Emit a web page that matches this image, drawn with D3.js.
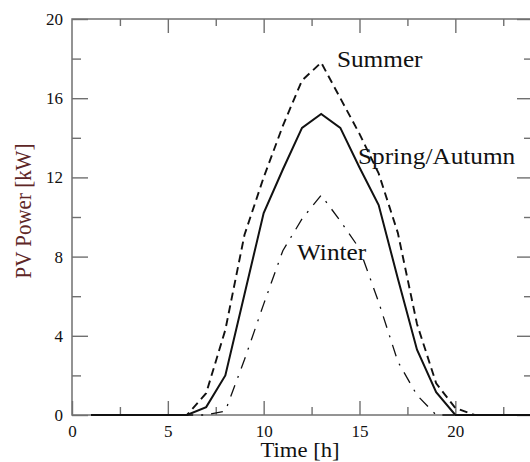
<!DOCTYPE html>
<html>
<head>
<meta charset="utf-8">
<script src="https://cdn.jsdelivr.net/npm/d3@7"></script>
<style>
  body { margin: 0; background: #fff; }
  text { font-family: "Liberation Serif", "DejaVu Serif", serif; }
</style>
</head>
<body>
<svg width="530" height="462"></svg>
<script>
// hours of the day
var hours = [1,2,3,4,5,6,7,8,9,10,11,12,13,14,15,16,17,18,19,20,21,22,23,24];

// PV power [kW] per season
var summer = [0,0,0,0,0,0,1.1,4.3,9.1,12.0,14.6,16.9,17.8,16.0,14.2,12.2,9.2,4.6,1.6,0.35,0,0,0,0];
var springAutumn = [0,0,0,0,0,0,0.4,2.0,6.1,10.2,12.4,14.5,15.2,14.5,12.5,10.6,6.9,3.3,1.15,0,0,0,0,0];
var winter = [0,0,0,0,0,0,0,0.2,2.8,5.6,8.3,9.9,11.1,9.8,8.4,5.7,2.7,1.0,0,0,0,0,0,0];

var xTicks = [0,5,10,15,20];
var yTicks = [0,4,8,12,16,20];

var svg = d3.select("svg"),
	margin = {top: 19, right: -2, bottom: 47, left: 72},
	width = +svg.attr("width") - margin.left - margin.right,
	height = +svg.attr("height") - margin.top - margin.bottom;

var x = d3.scaleLinear().domain([0, 24]).range([0, width]),
	y = d3.scaleLinear().domain([0, 20]).range([height, 0]);

var g = svg.append("g")
	.attr("transform", "translate(" + margin.left + "," + margin.top + ")");

var axisColor = "#707070";

function styleAxis(sel) {
	sel.select(".domain").remove();
	sel.selectAll(".tick line").attr("stroke", axisColor).attr("stroke-width", 1.4);
	sel.selectAll("text").style("font-size", "17px").attr("fill", "#111");
}

// minor ticks
var xMinor = d3.range(2.5, 24, 5), yMinor = d3.range(2, 20, 4);

g.append("g").attr("transform", "translate(0," + height + ")")
	.call(d3.axisBottom(x).tickValues(xMinor).tickSize(-8).tickFormat("")).call(styleAxis);
g.append("g")
	.call(d3.axisTop(x).tickValues(xMinor).tickSize(-7).tickFormat("")).call(styleAxis);
g.append("g")
	.call(d3.axisLeft(y).tickValues(yMinor).tickSize(-9).tickFormat("")).call(styleAxis);
g.append("g").attr("transform", "translate(" + width + ",0)")
	.call(d3.axisRight(y).tickValues(yMinor).tickSize(-8).tickFormat("")).call(styleAxis);

// major ticks
g.append("g").attr("class", "x_axis").attr("transform", "translate(0," + height + ")")
	.call(d3.axisBottom(x).tickValues(xTicks).tickSize(-14).tickPadding(10).tickFormat(d3.format("d")))
	.call(styleAxis);
g.append("g")
	.call(d3.axisTop(x).tickValues(xTicks.slice(1)).tickSize(-14).tickFormat("")).call(styleAxis);
g.append("g").attr("class", "y_axis")
	.call(d3.axisLeft(y).tickValues(yTicks).tickSize(-16).tickPadding(9).tickFormat(d3.format("d")))
	.call(styleAxis);
g.append("g").attr("transform", "translate(" + width + ",0)")
	.call(d3.axisRight(y).tickValues(yTicks).tickSize(-15).tickFormat("")).call(styleAxis);

// frame
g.append("rect")
	.attr("width", width).attr("height", height)
	.attr("fill", "none").attr("stroke", axisColor).attr("stroke-width", 1.5);

var line = d3.line()
	.x(function(d, i) { return x(hours[i]); })
	.y(function(d) { return y(d); });

var series = [
	{values: winter, dash: "12,8,2,8", w: 1.3},
	{values: summer, dash: "8,5", w: 1.9},
	{values: springAutumn, dash: null, w: 2}
];

g.selectAll(".series")
	.data(series)
	.enter().append("path")
	.attr("class", "series")
	.attr("d", function(d) { return line(d.values); })
	.attr("fill", "none")
	.attr("stroke", "#111")
	.attr("stroke-width", function(d) { return d.w; })
	.attr("stroke-dasharray", function(d) { return d.dash; });

// curve labels, positioned in data units
var labelText = ["Summer", "Spring/Autumn", "Winter"];
var labelX = [13.82, 14.92, 11.74];
var labelY = [17.56, 12.7, 7.85];

g.selectAll(".lbl")
	.data(labelText)
	.enter().append("text")
	.attr("class", "lbl")
	.attr("transform", function(d, i) {
		return "translate(" + x(labelX[i]) + "," + y(labelY[i]) + ") scale(1.1,1)";
	})
	.style("font-size", "23px")
	.attr("fill", "#111")
	.text(function(d) { return d; });

// axis titles
svg.append("text")
	.attr("transform", "translate(" + (margin.left + width / 2 - 2) + ",457) scale(1.08,1)")
	.attr("text-anchor", "middle")
	.style("font-size", "21px")
	.attr("fill", "#111")
	.text("Time [h]");

svg.append("text")
	.attr("transform", "translate(31," + (margin.top + height / 2 - 6) + ") rotate(-90) scale(1,1.05)")
	.attr("text-anchor", "middle")
	.style("font-size", "21px")
	.attr("fill", "#5e2626")
	.text("PV Power [kW]");
</script>
</body>
</html>
